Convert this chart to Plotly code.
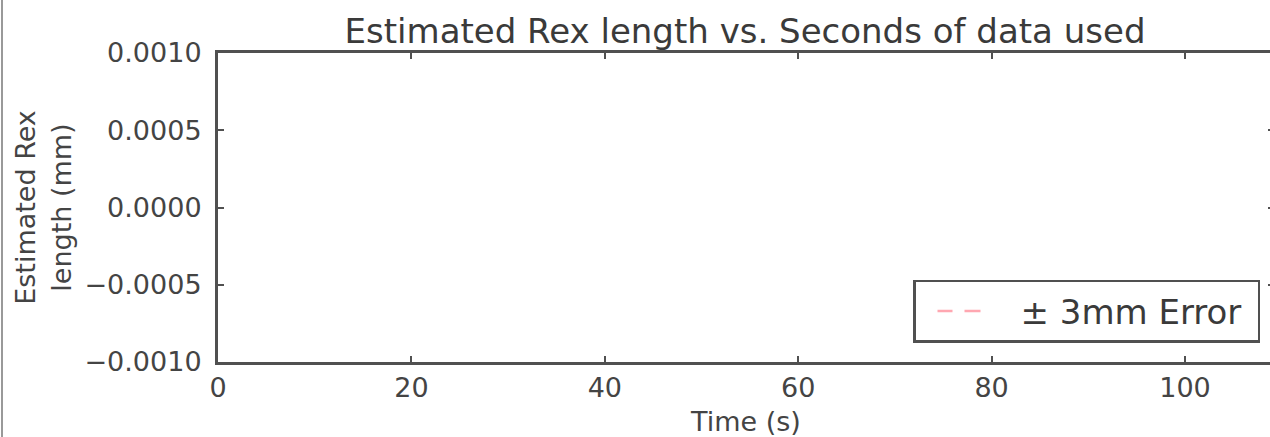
import plotly.graph_objects as go

# Data
time_s = [0, 110]
upper_err = [3, 3]      # +3 mm error line (off-scale)
lower_err = [-3, -3]    # -3 mm error line (off-scale)
x_ticks = [0, 20, 40, 60, 80, 100]
y_ticks = [-0.001, -0.0005, 0.0, 0.0005, 0.001]
legend_label = "± 3mm Error\u00a0"

FONT = "DejaVu Sans"
AX = "#505050"
TXT = "#444444"
ERR_COLOR = "rgba(255,80,100,0.5)"
ERR_DASH = "0px,17px,15px,12px,16px,300px"

W, H = 1274, 437
L, R, T, B = 218, 0, 53, 75
PW = W - L - R

fig = go.Figure()
fig.add_trace(go.Scatter(x=time_s, y=upper_err, mode="lines", name=legend_label,
                         line=dict(color=ERR_COLOR, dash=ERR_DASH, width=2.5),
                         showlegend=True))
fig.add_trace(go.Scatter(x=time_s, y=lower_err, mode="lines", name=legend_label,
                         line=dict(color=ERR_COLOR, dash=ERR_DASH, width=2.5),
                         showlegend=False))

fig.update_layout(
    width=W, height=H,
    margin=dict(l=L, r=R, t=T, b=B, autoexpand=False),
    paper_bgcolor="white", plot_bgcolor="white",
    font=dict(family=FONT, color=TXT, size=27),
    title=dict(text="Estimated Rex length vs. Seconds of data used",
               x=745 / W, xanchor="center", y=1 - 31 / H, yanchor="middle", yref="container",
               font=dict(size=34, color="#3a3a3a", family=FONT)),
    legend=dict(x=(1260 - L) / PW, xanchor="right", y=0.0615, yanchor="bottom",
                bordercolor=AX, borderwidth=2.5, bgcolor="white", itemwidth=95,
                font=dict(size=34, color="#3a3a3a", family=FONT)),
    xaxis=dict(range=[0, PW / 9.67], tickvals=x_ticks, ticks="inside", ticklen=6,
               tickcolor=AX, tickwidth=1.5, showline=True, linecolor=AX, linewidth=3,
               mirror="ticks", showgrid=False, zeroline=False, ticklabelstandoff=0,
               automargin=False,
               tickfont=dict(size=27, color=TXT),
               title=dict(text="Time (s)", font=dict(size=27, color=TXT), standoff=10)),
    yaxis=dict(range=[-0.001, 0.001], tickvals=y_ticks, tickformat=".4f", ticks="inside",
               ticklen=6, tickcolor=AX, tickwidth=1.5, showline=True, linecolor=AX,
               linewidth=3, mirror="ticks", showgrid=False, zeroline=False,
               ticklabelstandoff=8, automargin=False,
               tickfont=dict(size=27, color=TXT),
               title=dict(text="Estimated Rex<br>length (mm)", font=dict(size=27, color=TXT),
                          standoff=6)),
    shapes=[dict(type="line", xref="paper", yref="paper",
                 x0=(2 - L) / PW, x1=(2 - L) / PW, y0=-0.25, y1=1.18,
                 line=dict(color="#999999", width=2))],
)

fig.write_html("out.html", config={"displayModeBar": False},
               post_script="document.body.style.margin='0';document.body.style.overflow='hidden';")
